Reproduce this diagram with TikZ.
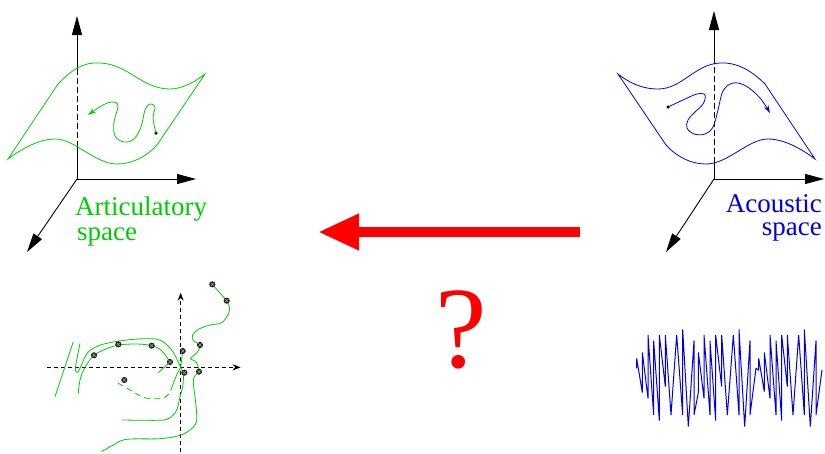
\documentclass[tikz,border=0pt]{standalone}
\usepackage{fontspec}
\setmainfont{Liberation Serif}
\usetikzlibrary{arrows.meta}
\definecolor{artgreen}{RGB}{0,204,0}
\definecolor{acblue}{RGB}{0,0,225}
\definecolor{arrred}{RGB}{255,0,0}

\begin{document}
\begin{tikzpicture}[x=1pt,y=-1pt,
	axline/.style={black, line width=0.9pt},
	axtip/.style={-{Triangle[length=19pt,width=10pt]}},
	surf/.style={line width=0.8pt},
	lbl/.style={inner sep=0pt, font=\fontsize{27}{30}\selectfont},
	vt/.style={artgreen, line width=0.8pt},
	ptdot/.style={circle, fill=black, inner sep=0pt, minimum size=3.5pt},
	mk/.style={circle, draw=black, fill=black!85, inner sep=0pt, minimum size=5.5pt,
		path picture={\draw[black!35, line width=0.5pt] (path picture bounding box.north west) -- (path picture bounding box.south east) (path picture bounding box.north east) -- (path picture bounding box.south west);}}]
	\useasboundingbox (0,0) rectangle (825,453);

	% articulatory space
	\coordinate (lo) at (77,179);
	\coordinate (lz) at (77,16);
	\coordinate (lx) at (196,179);
	\coordinate (ly) at (27,252);
	\coordinate (lc1) at (77,147);
	\coordinate (lc2) at (77,71);
	\draw[axline] (lo) -- (lc1);
	\draw[axline, dash pattern=on 6pt off 3pt] (lc1) -- (lc2);
	\draw[axline, axtip] (lc2) -- (lz);
	\draw[axline, axtip] (lo) -- (lx);
	\draw[axline, axtip] (lo) -- (ly);
	\draw[surf, artgreen] (8,159) -- (58,84) .. controls (72,70) and (82,62) .. (100,63) .. controls (128,64) and (142,89) .. (170,89) .. controls (183,89) and (196,81) .. (205,74) -- (157,145) .. controls (146,157) and (132,164) .. (117,164) .. controls (95,164) and (75,139) .. (55,139) .. controls (38,139) and (20,150) .. cycle;
	\node[ptdot] (artdot) at (156,133) {};
	\draw[surf, artgreen, -{Stealth[length=8pt,width=5pt]}] plot[smooth, tension=0.6] coordinates {(artdot) (153,118) (155,107) (150,104) (145,110) (141,127) (134,139) (124,142) (115,136) (114,122) (118,106) (113,102) (103,105) (88,115)};
	\node[lbl, text=artgreen, anchor=base west] (artic1) at (75,215) {Articulatory};
	\node[lbl, text=artgreen, anchor=base west] (artic2) at (77,240) {space};

	% acoustic space
	\coordinate (ro) at (714,179);
	\coordinate (rz) at (714,11);
	\coordinate (rx) at (824,179);
	\coordinate (ry) at (666,252);
	\coordinate (rc1) at (714,163);
	\coordinate (rc2) at (714,64);
	\draw[axline] (ro) -- (rc1);
	\draw[axline, dash pattern=on 6pt off 3pt] (rc1) -- (rc2);
	\draw[axline, axtip] (rc2) -- (rz);
	\draw[axline, axtip] (ro) -- (rx);
	\draw[axline, axtip] (ro) -- (ry);
	\draw[surf, acblue] (815,159) -- (765,84) .. controls (751,70) and (736,62) .. (720,63) .. controls (695,64) and (682,89) .. (658,89) .. controls (640,89) and (627,81) .. (618,74) -- (666,145) .. controls (677,157) and (691,164) .. (706,164) .. controls (728,164) and (748,139) .. (768,139) .. controls (785,139) and (803,150) .. cycle;
	\node[ptdot] (acdot) at (668,107) {};
	\draw[surf, acblue, -{Stealth[length=8pt,width=5pt]}] plot[smooth, tension=0.6] coordinates {(acdot) (683,100) (697,94) (705,95) (703,104) (695,112) (688,120) (687,128) (694,134) (705,134) (713,127) (718,110) (723,91) (733,83) (746,86) (760,98) (770,113)};
	\node[lbl, text=acblue, anchor=base east] (acou1) at (822,212) {Acoustic};
	\node[lbl, text=acblue, anchor=base east] (acou2) at (822,235) {space};

	% inversion
	\coordinate (ra) at (580,232);
	\coordinate (rb) at (318,232);
	\draw[arrred, line width=10pt, -{Triangle[length=41pt,width=34pt]}] (ra) -- (rb);
	\node[text=arrred, inner sep=0pt, anchor=base, font=\fontsize{116}{120}\selectfont] (qm) at (461,367) {?};

	% vocal tract
	\begin{scope}[shift={(30,280)}, scale=1/3]
		\coordinate (vl) at (50,262);
		\coordinate (vr) at (632,262);
		\coordinate (vb) at (452,515);
		\coordinate (vt) at (452,38);
		\draw[axline, dash pattern=on 4pt off 3pt, -{Stealth[length=8pt,width=6pt]}] (vl) -- (vr);
		\draw[axline, dash pattern=on 4pt off 3pt, -{Stealth[length=8pt,width=6pt]}] (vb) -- (vt);
		\draw[vt] (130,185) -- (75,350);
		\draw[vt] plot[smooth, tension=0.6] coordinates {(150,190) (142,230) (136,268) (142,277) (150,265) (170,222) (195,202) (230,190) (290,180) (360,176) (395,183) (425,210) (442,240) (452,262)};
		\draw[vt] plot[smooth, tension=0.6] coordinates {(145,340) (150,300) (165,262) (192,226) (230,206) (267,195) (320,192) (365,197) (395,212) (420,246)};
		\draw[vt] (420,246) -- (385,278);
		\draw[vt] plot[smooth, tension=0.6] coordinates {(452,262) (455,240) (458,213)};
		\draw[vt] plot[smooth, tension=0.6] coordinates {(452,262) (440,285) (428,315)};
		\draw[vt, dash pattern=on 6pt off 4pt] plot[smooth, tension=0.6] coordinates {(428,315) (418,340) (400,354) (375,356) (340,352) (300,330) (265,310)};
		\draw[vt] plot[smooth, tension=0.6] coordinates {(452,262) (460,285) (458,320) (450,350) (442,385) (430,405) (410,418) (380,421) (275,420)};
		\draw[vt] plot[smooth, tension=0.6] coordinates {(547,13) (575,45) (590,62) (598,80) (596,100) (575,128) (540,135) (505,148) (488,165) (490,182) (510,195) (503,215) (485,232) (483,238) (498,245) (505,262) (507,275) (493,290) (490,310) (495,350) (500,400) (498,430) (480,450) (450,466) (390,476) (290,478) (250,495) (215,515)};
		\foreach \p [count=\i] in {(547,13),(590,62),(510,195),(458,213),(420,246),(463,278),(507,275),(365,197),(265,193),(192,226),(283,300)}
			\node[mk] (m\i) at \p {};
	\end{scope}

	% speech signal
	\begin{scope}[shift={(620,300)}, scale=1/3]
		\draw[acblue, line width=1pt] plot coordinates {(50,205) (50,175) (67,278) (67,157) (84,295) (84,105) (101,345) (101,122) (118,362) (118,105) (136,260) (136,105) (153,345) (170,105) (188,345) (188,88) (205,380) (222,122) (222,345) (235,278) (235,157) (252,295) (252,105) (270,345) (270,122) (287,362) (287,105) (305,260) (305,105) (322,345) (340,105) (357,345) (357,88) (374,380) (390,122) (390,345) (408,205) (416,210) (416,175) (433,275) (433,157) (450,295) (450,105) (468,345) (468,122) (485,362) (485,105) (502,260) (502,105) (519,345) (536,105) (553,345) (553,88) (571,380) (588,122) (588,345) (606,210)};
	\end{scope}
\end{tikzpicture}
\end{document}
